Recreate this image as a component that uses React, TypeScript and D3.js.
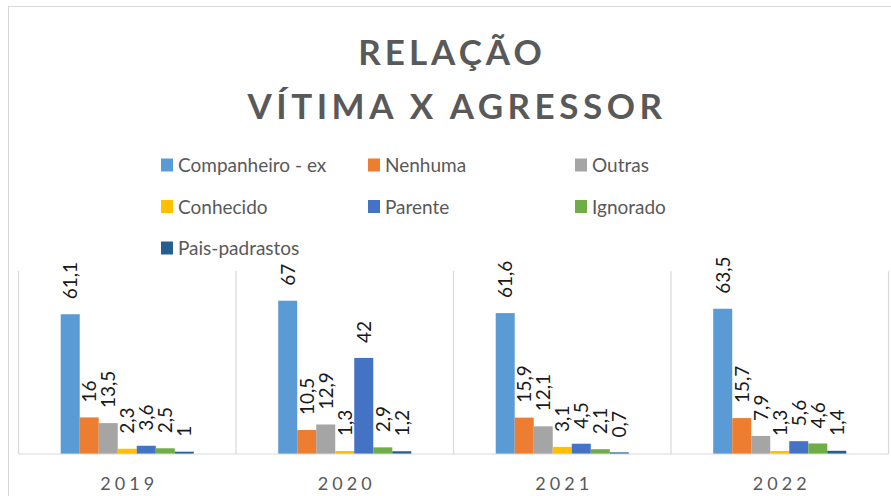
import React, { useEffect, useRef } from "react";
import * as d3 from "d3";

const years = ["2019", "2020", "2021", "2022"];
const seriesNames = [
  "Companheiro - ex",
  "Nenhuma",
  "Outras",
  "Conhecido",
  "Parente",
  "Ignorado",
  "Pais-padrastos",
];
const companheiro = [61.1, 67, 61.6, 63.5];
const nenhuma = [16, 10.5, 15.9, 15.7];
const outras = [13.5, 12.9, 12.1, 7.9];
const conhecido = [2.3, 1.3, 3.1, 1.3];
const parente = [3.6, 42, 4.5, 5.6];
const ignorado = [2.5, 2.9, 2.1, 4.6];
const paisPadrastos = [1, 1.2, 0.7, 1.4];
const colors = ["#5B9BD5", "#ED7D31", "#A5A5A5", "#FFC000", "#4472C4", "#70AD47", "#255E91"];

const allSeries = [companheiro, nenhuma, outras, conhecido, parente, ignorado, paisPadrastos];
const font = "Lato, 'Open Sans', sans-serif";

export default function App() {
  const svgRef = useRef<SVGSVGElement>(null);

  useEffect(() => {
    const svg = d3.select(svgRef.current);
    svg.selectAll("*").remove();

    const width = 891, height = 496;
    const plot = { left: 18.5, right: 888.5, top: 271, bottom: 454 };

    // outer chart border (cropped on right/bottom)
    svg.append("rect")
      .attr("x", 8.5).attr("y", 6.5)
      .attr("width", width + 20).attr("height", height + 20)
      .attr("fill", "#fff").attr("stroke", "#d9d9d9");

    // title
    const title = svg.append("text")
      .attr("text-anchor", "middle")
      .attr("fill", "#595959")
      .style("font-family", font)
      .style("font-weight", 700)
      .style("font-size", "35px");
    title.append("tspan").attr("x", 452).attr("y", 65)
      .style("letter-spacing", "4px").text("RELAÇÃO");
    title.append("tspan").attr("x", 457).attr("y", 119)
      .style("letter-spacing", "4.5px").text("VÍTIMA X AGRESSOR");

    // legend
    const legend = svg.append("g");
    seriesNames.forEach((name, i) => {
      const col = i % 3, row = Math.floor(i / 3);
      const lx = 161 + col * 207, ly = 165 + row * 41.5;
      legend.append("rect")
        .attr("x", lx).attr("y", ly - 6.5)
        .attr("width", 12).attr("height", 13)
        .attr("fill", colors[i]);
      legend.append("text")
        .attr("x", lx + 17).attr("y", ly + 7)
        .attr("fill", "#595959")
        .style("font-family", font)
        .style("font-size", "19px")
        .text(name);
    });

    const x0 = d3.scaleBand().domain(years).range([plot.left, plot.right]).padding(0);
    const x1 = d3.scaleBand()
      .domain(seriesNames)
      .range([0, x0.bandwidth()])
      .paddingInner(0)
      .paddingOuter(2.22);
    const y = d3.scaleLinear().domain([0, 80]).range([plot.bottom, plot.top]);

    // category dividers
    svg.append("g")
      .selectAll("line")
      .data([...years.map((d) => x0(d)!), plot.right])
      .join("line")
      .attr("x1", (d) => d).attr("x2", (d) => d)
      .attr("y1", plot.top).attr("y2", plot.bottom)
      .attr("stroke", "#d9d9d9").attr("stroke-width", 1.2);

    const rows = years.map((yr, yi) => ({
      year: yr,
      values: seriesNames.map((s, si) => ({ key: s, idx: si, v: allSeries[si][yi] })),
    }));

    const groups = svg.append("g")
      .selectAll("g")
      .data(rows)
      .join("g")
      .attr("transform", (d) => `translate(${x0(d.year)},0)`);

    groups.selectAll("rect")
      .data((d) => d.values)
      .join("rect")
      .attr("x", (d) => x1(d.key)!)
      .attr("width", x1.bandwidth())
      .attr("y", (d) => y(d.v))
      .attr("height", (d) => y(0) - y(d.v))
      .attr("fill", (d) => colors[d.idx]);

    groups.selectAll("text")
      .data((d) => d.values)
      .join("text")
      .attr("transform", (d) =>
        `translate(${x1(d.key)! + x1.bandwidth() / 2 + 7},${y(d.v) - 15}) rotate(-90)`)
      .attr("fill", "#1a1a1a")
      .style("font-family", font)
      .style("font-size", "19px")
      .text((d) => String(d.v).replace(".", ","));

    // baseline
    svg.append("line")
      .attr("x1", plot.left).attr("x2", plot.right)
      .attr("y1", plot.bottom).attr("y2", plot.bottom)
      .attr("stroke", "#d9d9d9").attr("stroke-width", 1.2);

    // year labels
    svg.append("g")
      .selectAll("text")
      .data(years)
      .join("text")
      .attr("x", (d) => x0(d)! + x0.bandwidth() / 2 + 2)
      .attr("y", 490)
      .attr("text-anchor", "middle")
      .attr("fill", "#595959")
      .style("font-family", font)
      .style("font-size", "18px")
      .style("letter-spacing", "4px")
      .text((d) => d);
  }, []);

  return (
    <svg
      ref={svgRef}
      width={891}
      height={496}
      style={{ position: "absolute", left: 0, top: 0, background: "#fff" }}
    />
  );
}
